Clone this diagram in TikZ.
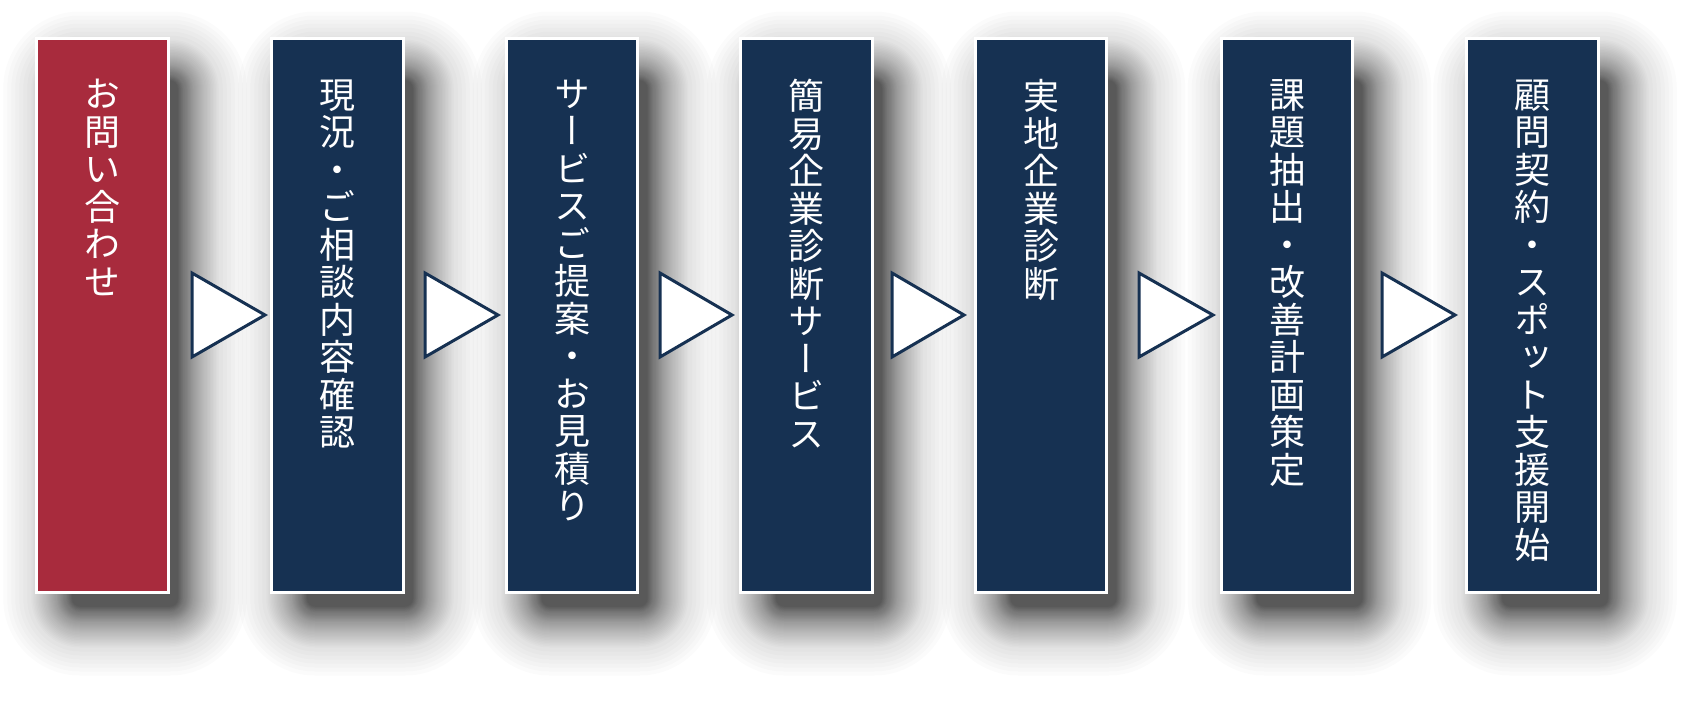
\documentclass[tikz,border=0pt]{standalone}
\usepackage{fontspec}
\newfontfamily\jpfont[RawFeature=+vert]{Noto Sans CJK JP}
\usetikzlibrary{positioning}
\definecolor{stepred}{HTML}{A82B3D}
\definecolor{stepnavy}{HTML}{163152}
\pgfdeclarelayer{back}
\pgfsetlayers{back,main}
\tikzset{
  stepbox/.style={draw=white, line width=3pt, minimum width=131.5pt, minimum height=554pt, inner sep=0pt},
  tate/.style={text=white, font=\jpfont\fontsize{36pt}{37.5pt}\selectfont, align=center, inner sep=0pt, outer sep=0pt},
  tri/.style={draw=stepnavy, fill=white, line width=3pt, line join=miter}
}
% soft shadow under a box
\newcommand\stepshadow[1]{%
  \foreach \e in {8,8.4,...,14,14.75,15.5,...,24,25,26,...,34,35.5,37,...,49,53,57,61,65,69,73,77}
    \fill[black, opacity=.014, rounded corners=\e pt]
      ([shift={(45-\e,52-\e)}]#1.north west) rectangle ([shift={(\e,\e+5)}]#1.south east);
}
\begin{document}
\begin{tikzpicture}[x=1pt,y=-1pt]
\useasboundingbox (0,0) rectangle (1693,724);
% boxes
\node[stepbox, fill=stepred] (b1) at (102.5,315) {};
\node[stepbox, fill=stepnavy] (b2) at (337.5,315) {};
\node[stepbox, fill=stepnavy] (b3) at (572,315) {};
\node[stepbox, fill=stepnavy] (b4) at (806.5,315) {};
\node[stepbox, fill=stepnavy] (b5) at (1041,315) {};
\node[stepbox, fill=stepnavy] (b6) at (1287,315) {};
\node[stepbox, fill=stepnavy] (b7) at (1532.5,315) {};
% shadows
\begin{pgfonlayer}{back}
\fill[white] (0,0) rectangle (1693,724);
\stepshadow{b1}
\stepshadow{b2}
\stepshadow{b3}
\stepshadow{b4}
\stepshadow{b5}
\stepshadow{b6}
\stepshadow{b7}
\end{pgfonlayer}
% vertical texts
\node[tate, below=43pt of b1.north] (t1) {お\\問\\い\\合\\わ\\せ};
\node[tate, below=43pt of b2.north] (t2) {現\\況\\・\\ご\\相\\談\\内\\容\\確\\認};
\node[tate, below=43pt of b3.north] (t3) {サ\\ー\\ビ\\ス\\ご\\提\\案\\・\\お\\見\\積\\り};
\node[tate, below=43pt of b4.north] (t4) {簡\\易\\企\\業\\診\\断\\サ\\ー\\ビ\\ス};
\node[tate, below=43pt of b5.north] (t5) {実\\地\\企\\業\\診\\断};
\node[tate, below=43pt of b6.north] (t6) {課\\題\\抽\\出\\・\\改\\善\\計\\画\\策\\定};
\node[tate, below=43pt of b7.north] (t7) {顧\\問\\契\\約\\・\\ス\\ポ\\ッ\\ト\\支\\援\\開\\始};
% triangles
\draw[tri] (192,273) -- (265,315) -- (192,357) -- cycle;
\draw[tri] (425,273) -- (498,315) -- (425,357) -- cycle;
\draw[tri] (660,273) -- (732,315) -- (660,357) -- cycle;
\draw[tri] (892,273) -- (964,315) -- (892,357) -- cycle;
\draw[tri] (1139,273) -- (1213,315) -- (1139,357) -- cycle;
\draw[tri] (1382,273) -- (1455,315) -- (1382,357) -- cycle;
\end{tikzpicture}
\end{document}
